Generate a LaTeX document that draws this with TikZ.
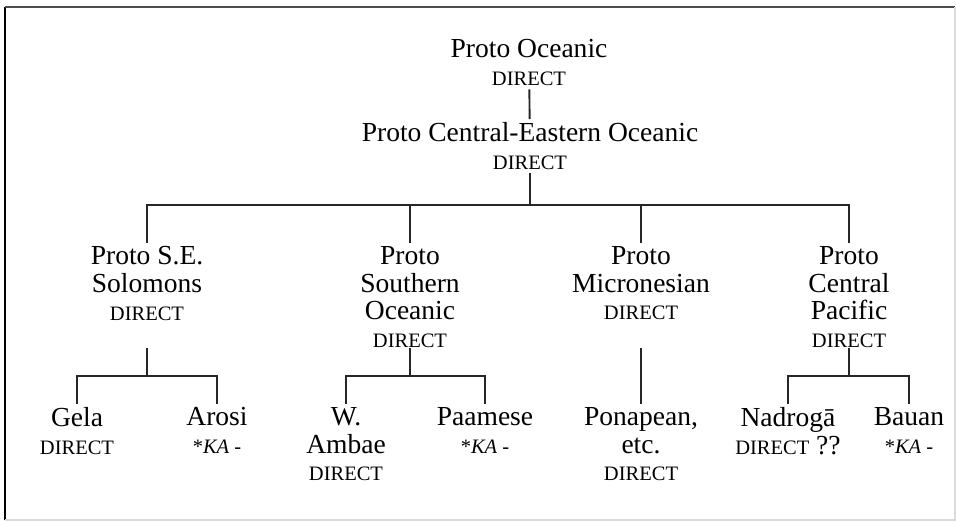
\documentclass[tikz,border=0pt]{standalone}
\usepackage{fontspec}
\setmainfont{Liberation Serif}
\newcommand{\dir}{{\fontsize{17.5}{20}\selectfont DIRECT}}
\newcommand{\ka}{{\fontsize{17.5}{20}\selectfont *\textit{KA} -}}
\begin{document}
\begin{tikzpicture}[x = 0.03cm, y = -0.03cm,
  lang/.style = {align = center, anchor = north, inner sep = 3pt, font = \fontsize{23.5}{23.5}\selectfont},
  branch/.style = {line width = 1.6pt, black!85}]
\useasboundingbox (0,0) rectangle (956,522);
% frame
\draw[line width = 2.5pt] (5,7) -- (5,520);
\draw[line width = 1.5pt, black!70] (5,7) -- (955,7);
\draw[line width = 1pt, black!15] (955,7) -- (955,520) -- (5,520);

\node[lang] (po) at (529,36) {Proto Oceanic\\\dir};
\node[lang] (pceo) at (530,119) {Proto Central-Eastern Oceanic\\\dir};

\node[lang] (sesol) at (147,243) {Proto S.E.\\Solomons\\\dir};
\node[lang] (psoc) at (410,243) {Proto\\Southern\\Oceanic\\\dir};
\node[lang] (pmic) at (641,243) {Proto\\Micronesian\\\dir};
\node[lang] (pcp) at (849,243) {Proto\\Central\\Pacific\\\dir};

\node[lang] (gela) at (77,404) {Gela\\\dir};
\node[lang] (arosi) at (217,404) {Arosi\\\ka};
\node[lang] (wamb) at (346,404) {W.\\Ambae\\\dir};
\node[lang] (paam) at (485,404) {Paamese\\\ka};
\node[lang] (pona) at (641,404) {Ponapean,\\etc.\\\dir};
\node[lang] (nadr) at (788,404) {Nadrogā\\\dir{} ??};
\node[lang] (bauan) at (909,404) {Bauan\\\ka};

\draw[branch] (po) -- (pceo);
\coordinate (bar) at (0,205);
\foreach \n in {sesol, psoc, pmic, pcp}
{
	\draw[branch] (pceo) -- (pceo |- bar) -| (\n);
}
\coordinate (sub) at (0,348);
\coordinate (subbar) at (0,376);
\foreach \p / \c in {sesol/gela, sesol/arosi, psoc/wamb, psoc/paam, pcp/nadr, pcp/bauan}
{
	\draw[branch] (\p |- sub) -- (\p |- subbar) -| (\c);
}
\draw[branch] (pmic |- sub) -- (pona);
\end{tikzpicture}
\end{document}
